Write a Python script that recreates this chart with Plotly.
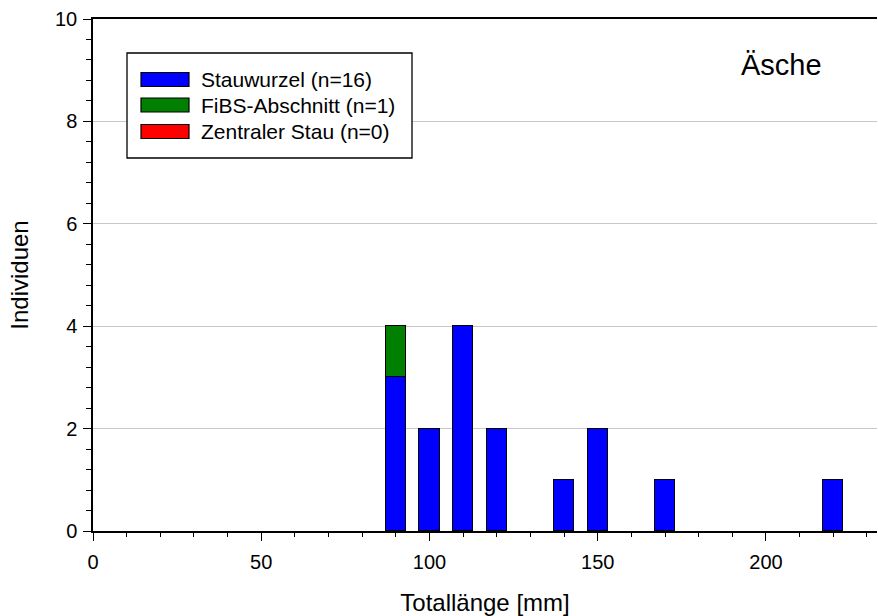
import plotly.graph_objects as go

# Length classes (mm) and catch counts per section
lengths = [90, 100, 110, 120, 140, 150, 170, 220]
stauwurzel = [3, 2, 4, 2, 1, 2, 1, 1]
fibs = [1, 0, 0, 0, 0, 0, 0, 0]
zentral = [0, 0, 0, 0, 0, 0, 0, 0]

series = [
    ("Stauwurzel", stauwurzel, "#0000FF"),
    ("FiBS-Abschnitt", fibs, "#007F00"),
    ("Zentraler Stau", zentral, "#FF0000"),
]

FONT = "Liberation Sans, Arial, sans-serif"

fig = go.Figure()
for name, vals, col in series:
    fig.add_trace(go.Bar(
        x=lengths, y=vals, name=f"{name} (n={sum(vals)})",
        width=6, marker=dict(color=col, line=dict(color="black", width=1.3)),
        showlegend=False,
    ))

W, H = 878, 616
ml, mr, mt, mb = 93, 1, 19, 85
pw, ph = W - ml - mr, H - mt - mb


def px(x):
    return (x - ml) / pw


def py(y):
    return 1 - (y - mt) / ph


# Framed legend drawn with shapes and text
lx0, lx1, ly0, ly1 = 127, 412, 53, 158
shapes = [dict(type="rect", xref="paper", yref="paper",
               x0=px(lx0), x1=px(lx1), y0=py(ly1), y1=py(ly0),
               line=dict(color="black", width=1.3), fillcolor="white", layer="above")]
annotations = []
row_y = [79.5, 105, 131.5]
for (name, vals, col), ry in zip(series, row_y):
    shapes.append(dict(type="rect", xref="paper", yref="paper",
                       x0=px(141), x1=px(189), y0=py(ry + 7), y1=py(ry - 7),
                       line=dict(color="black", width=1.2), fillcolor=col, layer="above"))
    annotations.append(dict(xref="paper", yref="paper", x=px(199), y=py(ry),
                            text=f"{name} (n={sum(vals)})", showarrow=False,
                            xanchor="left", yanchor="middle",
                            font=dict(family=FONT, size=21, color="black")))

annotations.append(dict(xref="paper", yref="paper", x=px(781), y=py(65),
                        text="Äsche", showarrow=False, xanchor="center", yanchor="middle",
                        font=dict(family=FONT, size=29, color="black")))

fig.update_layout(
    width=W, height=H,
    margin=dict(l=ml, r=mr, t=mt, b=mb),
    paper_bgcolor="white", plot_bgcolor="white",
    barmode="stack", bargap=0,
    font=dict(family=FONT, size=20, color="black"),
    shapes=shapes, annotations=annotations,
    xaxis=dict(
        range=[0, 233], tickmode="linear", tick0=0, dtick=50,
        ticks="outside", ticklen=8, tickwidth=1.3, tickcolor="black",
        showline=True, linecolor="black", linewidth=1.5, mirror=True,
        showgrid=False, zeroline=False, ticklabelstandoff=4,
        minor=dict(dtick=10, ticks="outside", ticklen=4, tickwidth=1.3, tickcolor="black", showgrid=False),
        title=dict(text="Totallänge [mm]", font=dict(family=FONT, size=24), standoff=24),
        tickfont=dict(family=FONT, size=20),
    ),
    yaxis=dict(
        range=[0, 10], tickmode="linear", tick0=0, dtick=2,
        ticks="outside", ticklen=8, tickwidth=1.3, tickcolor="black",
        showline=True, linecolor="black", linewidth=1.5,
        showgrid=True, gridcolor="#C8C8C8", gridwidth=1.2, zeroline=False, ticklabelstandoff=2,
        minor=dict(dtick=0.4, ticks="outside", ticklen=5, tickwidth=1.3, tickcolor="black", showgrid=False),
        title=dict(text="Individuen", font=dict(family=FONT, size=24), standoff=20),
        tickfont=dict(family=FONT, size=20),
    ),
)

fig.write_html("out.html")
